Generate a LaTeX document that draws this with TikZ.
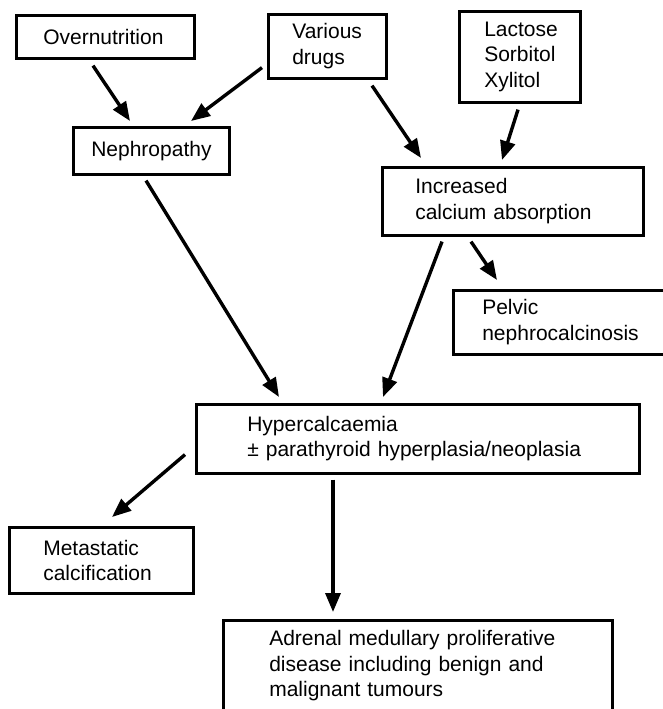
\documentclass[tikz,border=0pt]{standalone}
\usepackage{fontspec}
\setmainfont{Liberation Sans}
\usetikzlibrary{arrows.meta}
\tikzset{
  box/.style={draw, line width=2.6pt, anchor=north west, align=left,
    inner ysep=0pt, font=\fontsize{21}{25.5}\selectfont},
  arr/.style={line width=3.4pt, -{Triangle[length=19pt,width=15pt]}}
}
\begin{document}
\begin{tikzpicture}[x=1pt,y=-1pt]
  \useasboundingbox (0,0) rectangle (663,709);
  % causes
  \node[box, inner xsep=27pt, text width=124pt, minimum height=43pt] (over) at (15,14) {Overnutrition};
  \node[box, inner xsep=24pt, text width=70pt, minimum height=64pt] (drugs) at (267,13) {Various\\drugs};
  \node[box, inner xsep=25pt, text width=71pt, minimum height=91pt] (sugar) at (458,10) {Lactose\\Sorbitol\\Xylitol};
  \node[box, inner xsep=18pt, text width=120pt, minimum height=47pt] (neph) at (72,126) {Nephropathy};
  \node[box, inner xsep=33pt, text width=195pt, minimum height=68pt] (absorb) at (381,166) {Increased\\calcium absorption};
  \node[box, inner xsep=29pt, text width=160pt, minimum height=64pt] (pelvic) at (452,289) {Pelvic\\nephrocalcinosis};
  % central box
  \node[box, inner xsep=51pt, text width=341pt, minimum height=69pt] (hyper) at (195,403) {Hypercalcaemia\\± parathyroid hyperplasia/neoplasia};
  % effects
  \node[box, inner xsep=34pt, text width=116pt, minimum height=66pt] (meta) at (8,526) {Metastatic\\calcification};
  \node[box, inner xsep=46pt, text width=297pt, minimum height=91pt] (adrenal) at (222,619) {Adrenal medullary proliferative\\disease including benign and\\malignant tumours};
  % arrows
  \draw[arr] ([shift={(78,6)}]over.south west) -- ([shift={(58,-5)}]neph.north west);
  \draw[arr] ([shift={(-5,-12)}]drugs.south west) -- ([shift={(119,-5)}]neph.north west);
  \draw[arr] ([shift={(105,6)}]drugs.south west) -- ([shift={(40,-8)}]absorb.north west);
  \draw[arr] ([shift={(60,6)}]sugar.south west) -- ([shift={(121,-6)}]absorb.north west);
  \draw[arr] ([shift={(74,5)}]neph.south west) -- ([shift={(84,-6)}]hyper.north west);
  \draw[arr] ([shift={(61,5)}]absorb.south west) -- ([shift={(188,-6)}]hyper.north west);
  \draw[arr] ([shift={(90,5)}]absorb.south west) -- ([shift={(45,-9)}]pelvic.north west);
  \draw[arr] ([shift={(-10,-20)}]hyper.south west) -- ([shift={(104,-9)}]meta.north west);
  \draw[arr] ([shift={(138,5)}]hyper.south west) -- ([shift={(111,-7)}]adrenal.north west);
\end{tikzpicture}
\end{document}
